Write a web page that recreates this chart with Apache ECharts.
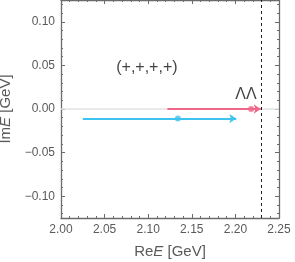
<!DOCTYPE html>
<html><head><meta charset="utf-8">
<script src="https://cdn.jsdelivr.net/npm/echarts@6/dist/echarts.min.js"></script>
<style>html,body{margin:0;padding:0;background:#fff}#c{width:295px;height:262px}</style>
</head><body><div id="c"></div>
<script>
// Data
var xTicks = [2.00, 2.05, 2.10, 2.15, 2.20, 2.25];
var yTicks = [-0.10, -0.05, 0.00, 0.05, 0.10];
var threshold = 2.2314;          // ΛΛ threshold
var redStart = [2.122, 0.0], redEnd = [2.229, 0.0], redPoint = [2.218, 0.0];
var blueStart = [2.025, -0.011], blueEnd = [2.201, -0.011], bluePoint = [2.134, -0.011];
var labelSign = ['(+,+,+,+)', 2.0985, 0.047];
var labelThr = ['ΛΛ', 2.2122, 0.016];

var yMinor = [];
for (var k = -12; k <= 12; k++) { yMinor.push(k / 100); }

var red = '#F0678A', blue = '#3EC3EE', frame = '#6b6b6b', tickText = '#5a5a5a';
function fmt(v){ var s = Math.abs(v).toFixed(2); return v < -1e-9 ? '\u2212' + s : s; }
var titleRich = {rich:{r:{fontSize:15,color:tickText,fontFamily:'Liberation Sans'},i:{fontSize:15,fontStyle:'italic',color:tickText,fontFamily:'Liberation Sans'}}};

var xCommon = {
  type:'value', min:2.0, max:2.25, interval:0.05,
  axisLine:{show:true, onZero:false, lineStyle:{color:frame, width:1.3}},
  axisTick:{show:true, inside:true, length:4, lineStyle:{color:frame}},
  minorTick:{show:true, splitNumber:5, length:2, lineStyle:{color:frame}},
  splitLine:{show:false}
};
function yMain(pos, showLabel){
  return {
    type:'value', min:-0.125, max:0.125, position:pos,
    axisLine:{show:true, onZero:false, lineStyle:{color:frame, width:1.3}},
    axisTick:{show:true, inside:true, length:4, customValues:yTicks, lineStyle:{color:frame}},
    minorTick:{show:false},
    splitLine:{show:false},
    axisLabel: showLabel ? {show:true, customValues:yTicks, formatter:fmt, color:tickText, fontSize:12, margin:6, fontFamily:'Liberation Sans'} : {show:false}
  };
}
function yMinorAxis(pos){
  return {
    type:'value', min:-0.125, max:0.125, position:pos,
    axisLine:{show:false, onZero:false},
    axisTick:{show:true, inside:true, length:2, customValues:yMinor, lineStyle:{color:frame}},
    axisLabel:{show:false}, splitLine:{show:false}
  };
}
var yLeft = yMain('left', true);
yLeft.name = '{r|Im}{i|E}{r| [GeV]}'; yLeft.nameLocation = 'middle'; yLeft.nameGap = 46; yLeft.nameRotate = 90; yLeft.nameTextStyle = titleRich;

var xBottom = Object.assign({position:'bottom',
  axisLabel:{formatter:fmt, color:tickText, fontSize:12, margin:6, fontFamily:'Liberation Sans'},
  name:'{r|Re}{i|E}{r| [GeV]}', nameLocation:'middle', nameGap:26, nameTextStyle:titleRich}, xCommon);
var xTop = Object.assign({position:'top', axisLabel:{show:false}}, xCommon);

var chart = echarts.init(document.getElementById('c'));
chart.setOption({
  animation:false,
  grid:{left:61, top:0, width:218, height:218, containLabel:false, outerBoundsMode:'none'},
  xAxis:[xBottom, xTop],
  yAxis:[yLeft, yMain('right', false), yMinorAxis('left'), yMinorAxis('right')],
  series:[
    {type:'line', data:[[2.0,0],[2.25,0]], symbol:'none', lineStyle:{color:'#e3e3e3', width:1.5}, silent:true, z:1,
     markLine:{silent:true, symbol:['none','none'], label:{show:false}, lineStyle:{color:'#222', type:[3,3], width:1}, data:[{xAxis:threshold}]}},
    {type:'lines', coordinateSystem:'cartesian2d', symbol:['none','arrow'], symbolSize:7, z:3,
     lineStyle:{width:2, opacity:1},
     data:[
       {coords:[redStart, redEnd], lineStyle:{color:red}},
       {coords:[blueStart, blueEnd], lineStyle:{color:blue}}
     ]},
    {type:'scatter', symbolSize:6, z:4, data:[{value:redPoint, itemStyle:{color:red}},{value:bluePoint, itemStyle:{color:blue}}]},
    {type:'scatter', symbolSize:0, z:5, silent:true,
     label:{show:true, position:'inside', color:'#111', fontSize:16, fontFamily:'Liberation Sans', formatter:function(p){return p.data.name;}},
     data:[{name:labelSign[0], value:[labelSign[1], labelSign[2]]},{name:labelThr[0], value:[labelThr[1], labelThr[2]]}]}
  ]
});
</script></body></html>
